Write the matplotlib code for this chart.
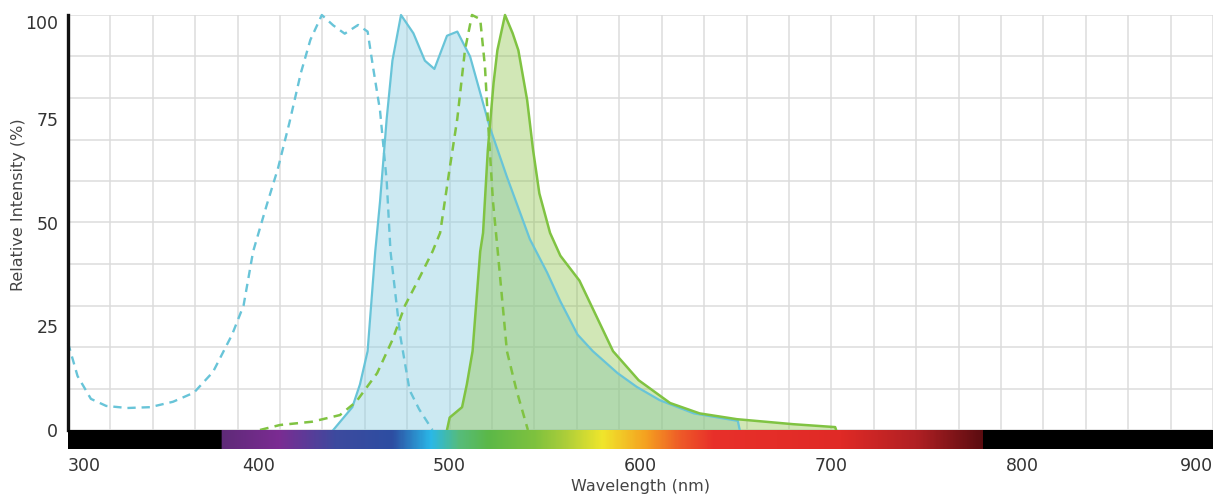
import numpy as np
import matplotlib
matplotlib.use("Agg")
import matplotlib.pyplot as plt
from matplotlib.colors import LinearSegmentedColormap

# ---- data (wavelength nm, relative intensity %) ----
cyan_ex_nm = [300, 305, 312, 320, 331, 343, 355, 366, 376, 386, 392, 397, 404, 410, 416, 422,
              427, 433, 439, 445, 452, 457, 460, 463.5, 467, 469, 474, 479, 484, 491]
cyan_ex_val = [21, 13, 7.5, 5.8, 5.3, 5.5, 6.8, 9, 14, 23, 30, 43, 54, 63, 74, 86,
               94, 100, 97.5, 95.5, 97.6, 96, 87, 77, 60, 43, 23, 9.6, 5, 0]

cyan_em_nm = [439, 449, 453, 457, 461, 463.5, 467, 470, 474.5, 481, 487, 492, 498.6, 504, 510.7,
              521, 530, 542, 551, 558, 567, 575, 588, 598, 610, 628, 651, 652]
cyan_em_val = [0, 5.5, 11, 19, 43, 55, 75, 89, 100, 95.6, 89, 87, 95, 96, 90,
               73, 61, 46, 38, 31, 23, 19, 13.7, 10.4, 7.2, 4, 2.2, 0]

green_ex_nm = [400.6, 411, 428, 442.5, 451, 462, 470, 476.6, 484.5, 491, 495, 500, 504, 508,
               511.7, 516, 518.5, 520, 522.7, 525, 530, 535, 541]
green_ex_val = [0, 1.2, 2, 3.6, 6.8, 13.7, 21.7, 30, 37, 43, 47.5, 63, 75, 91.5,
                100, 99, 87.5, 75, 55, 44, 19, 9.6, 0]

green_em_nm = [498.6, 500, 506.5, 509, 512, 516, 517.5, 520, 523, 525, 529, 533, 536, 540.6,
               543.7, 547, 552.6, 558, 568, 585.6, 599, 615.5, 631, 650.6, 680, 702, 702.5]
green_em_val = [0, 3, 5.5, 11, 19, 43, 47.5, 67.5, 83.6, 91.5, 100, 95.6, 91.5, 79.5,
                67.5, 57, 47.5, 42, 36, 19, 12, 6.5, 4, 2.6, 1.4, 0.7, 0]

x_ticks = [300, 400, 500, 600, 700, 800, 900]
y_ticks = [0, 25, 50, 75, 100]

# visible-spectrum colour stops (nm, colour)
spec_nm = [300, 379.9, 380, 410, 440, 470, 490, 505, 520, 545, 560, 580, 603, 621, 638, 705, 745, 780, 780.1, 900]
spec_col = ['#000000', '#000000', '#5e2a78', '#7b2c92', '#3d4a9e', '#2d4ea2', '#2ab8e8', '#56bc7a',
            '#5bb848', '#7fc23e', '#aacd3a', '#f0e62c', '#f5a020', '#ee5a28', '#e8302a', '#e02a26',
            '#b02024', '#5a0c10', '#000000', '#000000']

W, H = 1218, 495
fig = plt.figure(figsize=(W / 100, H / 100), dpi=100)
x0, x1 = 68, 1213
ytop, ybot = 15, 430
ax = fig.add_axes([x0 / W, (H - ybot) / H, (x1 - x0) / W, (ybot - ytop) / H])
ax.set_xlim(300, 900)
ax.set_ylim(0, 100)

# grid
for k in range(28):
    ax.axvline(300 + k * 600 / 27, color='#dcdcdc', lw=1.1, zorder=0)
for v in range(0, 101, 10):
    ax.axhline(v, color='#dcdcdc', lw=1.1, zorder=0)

cyan_line = '#68c4d8'
green_line = '#80c342'
ax.fill_between(cyan_em_nm, cyan_em_val, 0, color='#8fd0e3', alpha=0.45, lw=0, zorder=1)
ax.fill_between(green_em_nm, green_em_val, 0, color='#8cc34a', alpha=0.40, lw=0, zorder=2)
ax.plot(cyan_em_nm, cyan_em_val, color=cyan_line, lw=1.6, zorder=3, clip_on=False)
ax.plot(green_em_nm, green_em_val, color=green_line, lw=1.8, zorder=3, clip_on=False)
ax.plot(cyan_ex_nm, cyan_ex_val, color=cyan_line, lw=1.7, ls=(0, (3.5, 2.5)), zorder=4, clip_on=False)
ax.plot(green_ex_nm, green_ex_val, color=green_line, lw=1.8, ls=(0, (3.5, 2.5)), zorder=4, clip_on=False)

for s in ['top', 'right', 'bottom']:
    ax.spines[s].set_visible(False)
ax.spines['left'].set_linewidth(2.4)
ax.spines['left'].set_color('#111111')
ax.spines['left'].set_zorder(6)
ax.set_xticks([])
ax.set_yticks(y_ticks)
ax.set_yticklabels([str(v) for v in y_ticks])
ax.tick_params(axis='y', length=0, pad=7, labelsize=12.5, labelcolor='#333333')
for lab in ax.get_yticklabels():
    if lab.get_text() == '100':
        lab.set_va('top')
fig.text(19 / W, 1 - 205 / H, 'Relative Intensity (%)', rotation=90, ha='center', va='center',
         fontsize=11.5, color='#444444')

# spectrum bar
bar_h = 19
axb = fig.add_axes([x0 / W, (H - ybot - bar_h) / H, (x1 - x0) / W, bar_h / H])
pos = [(n - 300) / 600 for n in spec_nm]
cmap = LinearSegmentedColormap.from_list('spec', list(zip(pos, spec_col)), N=1024)
grad = np.linspace(0, 1, 1200).reshape(1, -1)
axb.imshow(grad, aspect='auto', cmap=cmap, extent=[300, 900, 0, 1])
axb.set_xlim(300, 900)
axb.set_ylim(0, 1)
for s in axb.spines.values():
    s.set_visible(False)
axb.set_yticks([])
axb.set_xticks(x_ticks)
axb.set_xticklabels([str(v) for v in x_ticks])
axb.tick_params(axis='x', length=0, pad=6, labelsize=12.5, labelcolor='#333333')
labs = axb.get_xticklabels()
labs[0].set_ha('left')
labs[-1].set_ha('right')
axb.set_xlabel('Wavelength (nm)', fontsize=11.5, color='#444444', labelpad=3)

fig.savefig('out.png', dpi=100)
